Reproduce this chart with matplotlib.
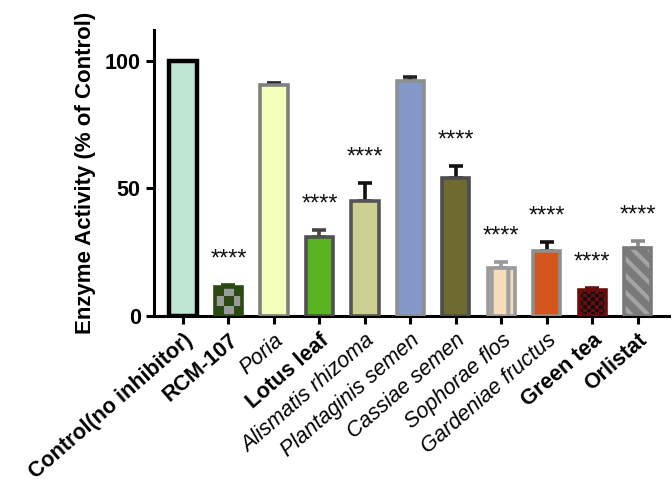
import matplotlib
matplotlib.use("Agg")
import matplotlib.pyplot as plt
from matplotlib.colors import ListedColormap
import numpy as np

plt.rcParams['font.family'] = ['Liberation Sans', 'DejaVu Sans']
plt.rcParams['hatch.linewidth'] = 3.0

# data
labels = ["Control(no inhibitor)", "RCM-107", "Poria", "Lotus leaf",
          "Alismatis rhizoma", "Plantaginis semen", "Cassiae semen",
          "Sophorae flos", "Gardeniae fructus", "Green tea", "Orlistat"]
bold_labels = ["Control(no inhibitor)", "RCM-107", "Lotus leaf", "Green tea", "Orlistat"]
activity = [100, 11.5, 90.5, 31, 45, 92, 54, 19, 25.5, 10, 26.5]
sem = [0, 0.8, 0.7, 2.6, 7, 1.5, 4.7, 2.2, 3.4, 1.0, 3.0]
stars = ["", "****", "", "****", "****", "", "****", "****", "****", "****", "****"]

fills = ["#bfe6d3", "#2b4a12", "#f3ffb8", "#5ab322", "#cdce8f", "#8599c8",
         "#6e6a30", "#f5deb9", "#d4561e", "#6a0c0c", "#7a7a7a"]
edges = ["#000000", "#2b4a12", "#7f7f7f", "#505050", "#555555", "#8f8f8f",
         "#4d4d4d", "#9a9a9a", "#8f8f8f", "#6a0c0c", "#7a7a7a"]
errcols = ["#000000", "#2b4a12", "#222222", "#444444", "#111111", "#222222",
           "#111111", "#9a9a9a", "#111111", "#6a0c0c", "#8a8a8a"]
hatches = [None, "checker", None, None, None, None, None, "|", None, "checker", "\\\\"]
hatchcols = [None, "#9a9a9a", None, None, None, None, None, "#a0a0a0", None, "#111111", "#a4a4a4"]
cellsize = {1: 3, 9: 7}  # checker cells across bar

fig = plt.figure(figsize=(6.72, 4.93), dpi=100)
ax = fig.add_axes([0.229, 0.359, 0.766, 0.58])

x = np.arange(len(labels))
bars = ax.bar(x, activity, width=0.6, color=fills, linewidth=0, zorder=2)

for i, b in enumerate(bars):
    h = hatches[i]
    if h == "checker":
        n = cellsize[i]
        bw = b.get_width()
        cell_px_w = bw / n
        # rows so cells look square (45.5 px per x unit, 2.55 px per y unit)
        rows = max(1, int(round(b.get_height() * 2.55 / (cell_px_w * 45.5))))
        board = (np.indices((rows, n)).sum(axis=0) % 2)
        im = ax.imshow(board, cmap=ListedColormap([fills[i], hatchcols[i]]),
                       extent=(b.get_x(), b.get_x() + bw, 0, b.get_height()),
                       aspect='auto', interpolation='nearest', zorder=2.5)
        im.set_clip_path(b)
    elif h is not None:
        ax.bar(x[i], activity[i], width=0.6, color="none", edgecolor=hatchcols[i],
               linewidth=0, hatch=h, zorder=2.6)

ax.bar(x, activity, width=0.6, color="none", edgecolor=edges, linewidth=2.6, zorder=3)
ax.bar(x[0], activity[0], width=0.6, color="none", edgecolor="black", linewidth=3.2, zorder=3.1)

for i in range(len(x)):
    if sem[i] > 0:
        ax.errorbar(x[i], activity[i], yerr=[[0], [sem[i]]], fmt="none",
                    ecolor=errcols[i], elinewidth=2.6, capsize=5, capthick=2.6, zorder=1.5)
    if stars[i]:
        ax.text(x[i], activity[i] + sem[i] + 10, stars[i], ha="center", va="center",
                fontsize=17, color="#111111")

ax.set_xlim(-0.64, 10.68)
ax.set_ylim(0, 112)
ax.set_yticks([0, 50, 100])
ax.set_yticklabels(["0", "50", "100"], fontsize=15.5, fontweight="bold")
ax.set_xticks(x)
ax.set_xticklabels(labels, rotation=41, ha="right", rotation_mode="anchor", fontsize=15.5)
for t in ax.get_xticklabels():
    if t.get_text() in bold_labels:
        t.set_fontweight("bold")
    else:
        t.set_fontstyle("italic")

for s in ["top", "right"]:
    ax.spines[s].set_visible(False)
ax.spines["left"].set_linewidth(2.2)
ax.spines["bottom"].set_linewidth(2.2)
ax.tick_params(axis="both", width=2.2, length=6)
ax.tick_params(axis="x", pad=4)

ax.set_ylabel("Enzyme Activity (% of Control)", fontsize=16, fontweight="bold", labelpad=6)

fig.savefig("out.png", dpi=100)
